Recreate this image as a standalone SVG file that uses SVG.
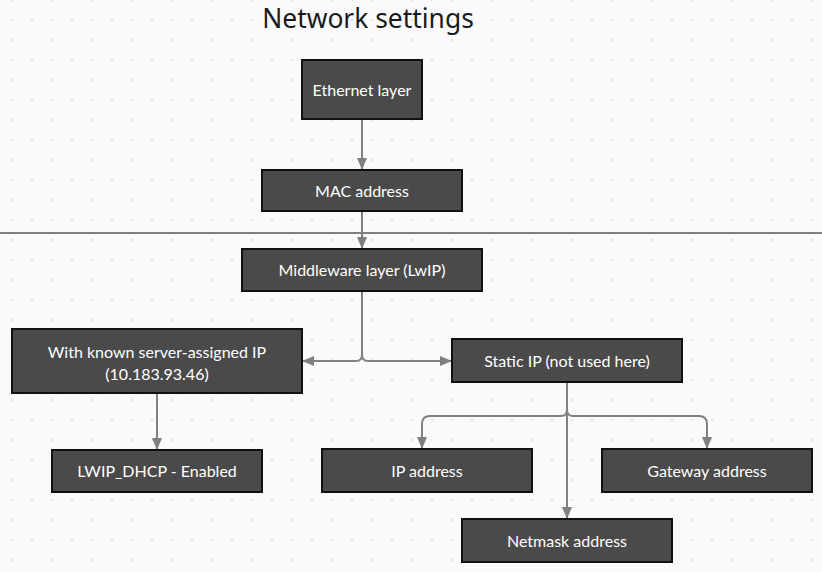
<svg xmlns="http://www.w3.org/2000/svg" width="822" height="572" viewBox="0 0 822 572">
<defs>
<pattern id="dots" x="2" y="-10" width="20" height="20" patternUnits="userSpaceOnUse">
<circle cx="10" cy="10" r="1" fill="#d9d9de"/>
</pattern>
<marker id="arr" viewBox="0 0 12 10" refX="12" refY="5" markerWidth="12" markerHeight="10" markerUnits="userSpaceOnUse" orient="auto">
<path d="M0,0 L12,5 L0,10 Z" fill="#808080"/>
</marker>
<style>
.node rect{fill:#4a4a4a;stroke:#111;stroke-width:2}
.node text{fill:#ffffff;font-family:Lato,"Liberation Sans",sans-serif;font-size:16px;text-anchor:middle}
.conn path{fill:none;stroke:#808080;stroke-width:2}
.title{fill:#1a1a1a;font-family:"Noto Sans","Open Sans",sans-serif;font-size:26.4px;text-anchor:middle}
</style>
</defs>
<rect width="822" height="572" fill="#fafafc"/>
<rect width="822" height="572" fill="url(#dots)"/>
<text class="title" x="368" y="28">Network settings</text>
<line x1="0" y1="233" x2="822" y2="233" stroke="#808080" stroke-width="2"/>
<g class="conn">
<path d="M362,119 V170" marker-end="url(#arr)"/>
<path d="M362,211 V249" marker-end="url(#arr)"/>
<path d="M362,291 V355 Q362,361 356,361 H302" marker-end="url(#arr)"/>
<path d="M362,355 Q362,361 368,361 H452" marker-end="url(#arr)"/>
<path d="M157,393 V450" marker-end="url(#arr)"/>
<path d="M567,382 V519" marker-end="url(#arr)"/>
<path d="M567,410 Q567,416 561,416 H430 Q422,416 422,424 V449" marker-end="url(#arr)"/>
<path d="M567,410 Q567,416 573,416 H699 Q707,416 707,424 V449" marker-end="url(#arr)"/>
</g>
<g id="ethernet" class="node"><rect x="302" y="60" width="120" height="59"/><text x="362" y="95.5">Ethernet layer</text></g>
<g id="mac" class="node"><rect x="262" y="170" width="200" height="41"/><text x="362" y="196.5">MAC address</text></g>
<g id="middleware" class="node"><rect x="242" y="249" width="240" height="42"/><text x="362" y="275.5">Middleware layer (LwIP)</text></g>
<g id="known" class="node"><rect x="12" y="329" width="290" height="64"/><text x="157" y="357.5">With known server-assigned IP</text><text x="157" y="379.5">(10.183.93.46)</text></g>
<g id="dhcp" class="node"><rect x="52" y="450" width="210" height="42"/><text x="157" y="476.5">LWIP_DHCP - Enabled</text></g>
<g id="static" class="node"><rect x="452" y="339" width="230" height="43"/><text x="567" y="366.5">Static IP (not used here)</text></g>
<g id="ip" class="node"><rect x="322" y="449" width="210" height="43"/><text x="427" y="476.5">IP address</text></g>
<g id="gateway" class="node"><rect x="602" y="449" width="210" height="43"/><text x="707" y="476.5">Gateway address</text></g>
<g id="netmask" class="node"><rect x="462" y="519" width="210" height="43"/><text x="567" y="546.5">Netmask address</text></g>
</svg>
